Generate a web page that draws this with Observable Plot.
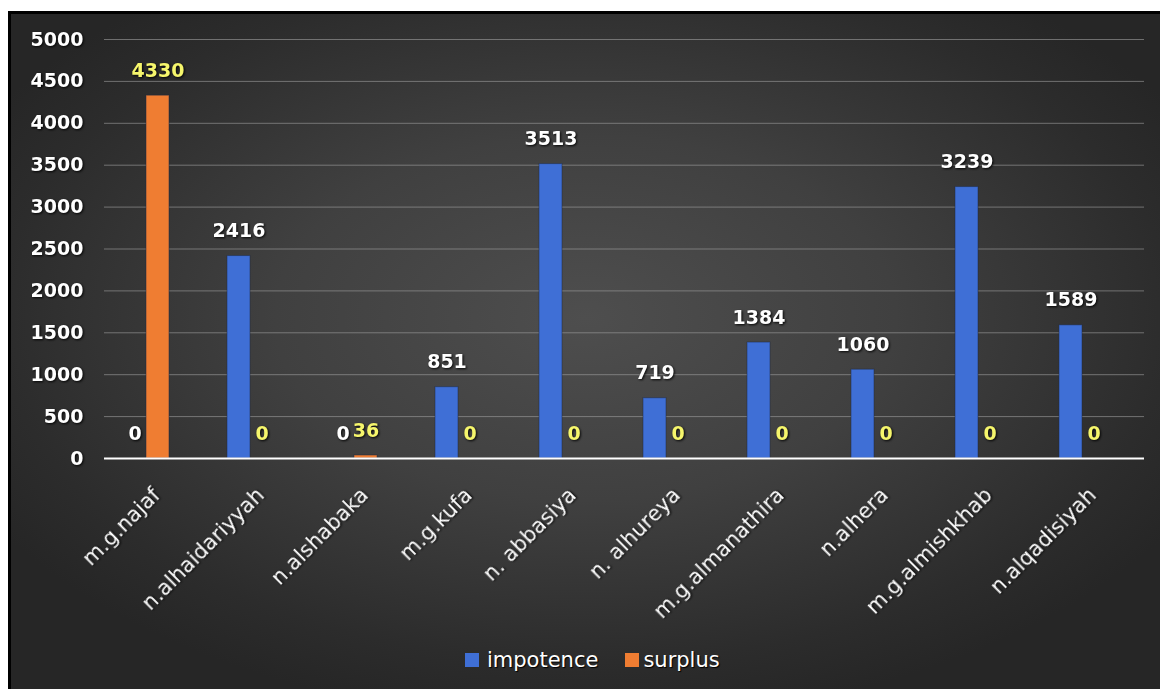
<!DOCTYPE html>
<html>
<head>
<meta charset="utf-8">
<script src="https://cdn.jsdelivr.net/npm/d3@7"></script>
<script src="https://cdn.jsdelivr.net/npm/@observablehq/plot@0.6"></script>
<style>
  html, body { margin: 0; padding: 0; background: #fff; width: 1160px; height: 689px; overflow: hidden; }
  #bg {
    position: absolute; left: 8px; top: 11px; width: 1152px; height: 678px;
    border-left: 3px solid #000; border-top: 3px solid #000; box-sizing: border-box;
    background: radial-gradient(ellipse 60% 60% at 50% 45%, #4e4e4e 0%, #404040 45%, #2c2c2c 85%, #262626 100%);
  }
  #chart { position: absolute; left: 0; top: 0; }
  #chart svg { background: transparent !important; overflow: visible; }
  .shadow text { filter: drop-shadow(1px 1px 1px rgba(0,0,0,0.9)); }
  #legend {
    position: absolute; top: 648px; left: 465px; display: flex; align-items: center;
    font-family: "DejaVu Sans", sans-serif; font-size: 21px; color: #fff;
    text-shadow: 1px 1px 1px #000;
  }
  #legend .sw { width: 14px; height: 14px; display: inline-block; margin-right: 8px; }
</style>
</head>
<body>
<div id="bg"></div>
<div id="chart"></div>
<div id="legend">
  <span class="sw" style="background:#3f6fd6"></span><span>impotence</span>
  <span class="sw" style="background:#ef7d32; margin-left:27px; margin-right:4px"></span><span>surplus</span>
</div>
<script>
const categories = ["m.g.najaf","n.alhaidariyyah","n.alshabaka","m.g.kufa","n. abbasiya","n. alhureya","m.g.almanathira","n.alhera","m.g.almishkhab","n.alqadisiyah"];
const series = ["impotence","surplus"];
const impotence = [0,2416,0,851,3513,719,1384,1060,3239,1589];
const surplus = [4330,0,36,0,0,0,0,0,0,0];
const yTicks = [0,500,1000,1500,2000,2500,3000,3500,4000,4500,5000];
const seriesColors = ["#3f6fd6","#ef7d32"];
const labelColors = ["#ffffff","#f6f66c"];

const data = [];
categories.forEach((c, i) => {
  data.push({category: c, series: "impotence", value: impotence[i]});
  data.push({category: c, series: "surplus", value: surplus[i]});
});

const chart = Plot.plot({
  width: 1160,
  height: 620,
  marginLeft: 100,
  marginRight: 13,
  marginTop: 39,
  marginBottom: 162,
  style: {background: "transparent", color: "#fff"},
  fx: {domain: categories, padding: 0},
  x: {domain: series, paddingInner: 0, paddingOuter: 1.2, align: 0.33, axis: null},
  y: {domain: [0, 5000], axis: null},
  color: {domain: series, range: seriesColors},
  marks: [
    Plot.gridY(yTicks.filter(t => t > 0), {stroke: "#a0a0a0", strokeOpacity: 0.6, strokeWidth: 1}),
    Plot.axisY(yTicks, {tickSize: 0, tickPadding: 21, tickFormat: d => String(d), fontSize: 19, fontWeight: "bold", fontFamily: "DejaVu Sans", fill: "#fff", label: null, className: "shadow"}),
    Plot.axisFx({anchor: "bottom", tickRotate: -45, tickSize: 0, tickPadding: 33, fontSize: 21, fontFamily: "DejaVu Sans", fill: "#fff", label: null, className: "shadow"}),
    Plot.barY(data, {fx: "category", x: "series", y: "value", fill: "series", stroke: "#1d2a44", strokeOpacity: 0.5, strokeWidth: 1}),
    Plot.ruleY([0], {stroke: "#fff", strokeWidth: 2}),
    Plot.text(data.filter(d => d.series === "impotence"), {fx: "category", x: "series", y: "value", text: d => String(d.value), dy: -25, fill: labelColors[0], fontSize: 19, fontWeight: "bold", fontFamily: "DejaVu Sans", className: "shadow"}),
    Plot.text(data.filter(d => d.series === "surplus"), {fx: "category", x: "series", y: "value", text: d => String(d.value), dy: -25, fill: labelColors[1], fontSize: 19, fontWeight: "bold", fontFamily: "DejaVu Sans", className: "shadow"})
  ]
});
document.getElementById("chart").appendChild(chart);
</script>
</body>
</html>
